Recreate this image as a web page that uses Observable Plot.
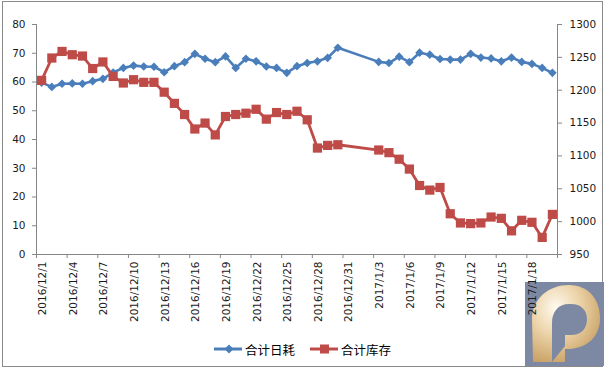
<!DOCTYPE html>
<html>
<head>
<meta charset="utf-8">
<script src="https://cdn.jsdelivr.net/npm/d3@7"></script>
<script src="https://cdn.jsdelivr.net/npm/@observablehq/plot@0.6"></script>
<style>
  html, body { margin: 0; padding: 0; background: #fff; }
  #wrap { position: relative; width: 604px; height: 369px; overflow: hidden; font-family: "DejaVu Sans", sans-serif; }
  #frame { position: absolute; left: 2px; top: 1px; width: 601px; height: 366px; box-sizing: border-box; border: 1px solid #8a8a8a; }
  #logo { position: absolute; left: 525px; top: 282px; }
  #chart { position: absolute; left: 0; top: 0; }
  #legend { position: absolute; left: 0; top: 339px; width: 604px; height: 20px; font-family: "Noto Sans CJK SC", sans-serif; font-size: 12.5px; color: #000; }
  .item { position: absolute; top: 0; display: flex; align-items: center; height: 20px; }
  .item span { margin-left: 2px; }
</style>
</head>
<body>
<div id="wrap">
  <div id="frame"></div>
  <svg id="logo" width="79" height="84" viewBox="0 0 79 84">
    <defs>
      <radialGradient id="gold" cx="0.35" cy="0.3" r="0.8">
        <stop offset="0" stop-color="#fffaf0"/>
        <stop offset="0.45" stop-color="#ecd3a8"/>
        <stop offset="1" stop-color="#c49a5c"/>
      </radialGradient>
    </defs>
    <rect x="0" y="0" width="79" height="84" fill="#7d89a3"/>
    <path fill="url(#gold)" fill-rule="evenodd"
      d="M8 80 L7 38 C7 16 24 3 44 3 C64 3 75 18 75 36 C75 54 63 66 44 67 L40 67 L40 80 Z
         M27 41 C27 30 33 22 44 22 L46 22 C56 22 62 28 62 37 C62 47 56 53 46 53 L40 53 L40 64 L27 80 Z"/>
  </svg>
  <div id="chart"></div>
  <div id="legend">
    <div class="item" style="left:214px">
      <svg width="29" height="12"><line x1="0" y1="6" x2="28" y2="6" stroke="#4A7EBB" stroke-width="3"/><path d="M15 1.5 L19.5 6 L15 10.5 L10.5 6 Z" fill="#4A7EBB"/></svg>
      <span>合计日耗</span>
    </div>
    <div class="item" style="left:310px">
      <svg width="29" height="12"><line x1="0" y1="6" x2="28" y2="6" stroke="#BE4B48" stroke-width="3"/><rect x="10" y="1.5" width="9" height="9" fill="#BE4B48"/></svg>
      <span>合计库存</span>
    </div>
  </div>
</div>
<script>
// ---- data ----
const dates = [
  "2016-12-01","2016-12-02","2016-12-03","2016-12-04","2016-12-05","2016-12-06","2016-12-07","2016-12-08",
  "2016-12-09","2016-12-10","2016-12-11","2016-12-12","2016-12-13","2016-12-14","2016-12-15","2016-12-16",
  "2016-12-17","2016-12-18","2016-12-19","2016-12-20","2016-12-21","2016-12-22","2016-12-23","2016-12-24",
  "2016-12-25","2016-12-26","2016-12-27","2016-12-28","2016-12-29","2016-12-30",
  "2017-01-03","2017-01-04","2017-01-05","2017-01-06","2017-01-07","2017-01-08","2017-01-09","2017-01-10",
  "2017-01-11","2017-01-12","2017-01-13","2017-01-14","2017-01-15","2017-01-16","2017-01-17","2017-01-18",
  "2017-01-19","2017-01-20"
];
// 合计日耗 (left axis)
const consumption = [
  59.8, 58.3, 59.4, 59.5, 59.4, 60.3, 61.1, 63.3, 64.9, 65.7, 65.4, 65.3, 63.4, 65.5, 66.9, 69.8,
  68.1, 66.9, 68.9, 64.9, 68.1, 67.2, 65.4, 64.9, 63.2, 65.5, 66.6, 67.2, 68.4, 71.9,
  67.0, 66.6, 68.8, 66.9, 70.2, 69.5, 68.0, 67.8, 67.8, 69.8, 68.5, 68.2, 67.2, 68.5, 67.0, 66.3,
  64.9, 63.2
];
// 合计库存 (right axis)
const inventory = [
  1215, 1249, 1259, 1254, 1252, 1233, 1243, 1221, 1211, 1216, 1212, 1212, 1197, 1180, 1163, 1141,
  1150, 1132, 1160, 1163, 1165, 1171, 1156, 1166, 1163, 1168, 1155, 1112, 1116, 1117,
  1109, 1105, 1095, 1080, 1055, 1048, 1052, 1012, 998, 997, 998, 1007, 1005, 986, 1002, 999,
  976, 1011
];
const seriesNames = ["合计日耗", "合计库存"];
const leftTicks = [0, 10, 20, 30, 40, 50, 60, 70, 80];
const rightTicks = [950, 1000, 1050, 1100, 1150, 1200, 1250, 1300];
const xTickLabels = [
  "2016/12/1","2016/12/4","2016/12/7","2016/12/10","2016/12/13","2016/12/16","2016/12/19",
  "2016/12/22","2016/12/25","2016/12/28","2016/12/31","2017/1/3","2017/1/6","2017/1/9",
  "2017/1/12","2017/1/15","2017/1/18"
];

// ---- helpers ----
const parse = d3.utcParse("%Y-%m-%d");
const parseTick = d3.utcParse("%Y/%m/%d");
const fmt = d3.utcFormat("%Y/%-m/%-d");
const DAY = 864e5;
const leftDom = [leftTicks[0], leftTicks[leftTicks.length - 1]];
const rightDom = [rightTicks[0], rightTicks[rightTicks.length - 1]];
const toLeft = v => leftDom[0] + (v - rightDom[0]) / (rightDom[1] - rightDom[0]) * (leftDom[1] - leftDom[0]);
const fromLeft = v => rightDom[0] + (v - leftDom[0]) / (leftDom[1] - leftDom[0]) * (rightDom[1] - rightDom[0]);

const data = dates.map((d, i) => ({date: parse(d), cons: consumption[i], inv: inventory[i]}));
const xStart = new Date(+data[0].date - DAY / 2);
const xEnd = new Date(+data[data.length - 1].date + DAY / 2);
const labelDates = xTickLabels.map(parseTick);
const boundaries = labelDates.map(d => new Date(+d - DAY / 2)).concat([xEnd]);

const axisColor = "#868686";
const textColor = "#1a1a1a";
const blue = "#4A7EBB";
const red = "#BE4B48";

const chart = Plot.plot({
  width: 604,
  height: 369,
  marginLeft: 36,
  marginRight: 47,
  marginTop: 24,
  marginBottom: 115,
  style: {background: "transparent", fontFamily: "DejaVu Sans, sans-serif", fontSize: "10px", overflow: "visible"},
  x: {type: "utc", domain: [xStart, xEnd], axis: null},
  y: {domain: leftDom, axis: null},
  marks: [
    Plot.ruleY([0], {stroke: axisColor, strokeWidth: 1}),
    Plot.ruleX([xStart, xEnd], {stroke: axisColor, strokeWidth: 1}),
    Plot.axisY(leftTicks, {anchor: "left", label: null, tickSize: 4, tickPadding: 7, stroke: axisColor, fill: textColor, fontSize: 10.5}),
    Plot.axisY(rightTicks.map(toLeft), {anchor: "right", label: null, tickSize: 4, tickPadding: 8, stroke: axisColor, fill: textColor, fontSize: 10.5,
      tickFormat: v => String(Math.round(fromLeft(v)))}),
    Plot.axisX(boundaries, {anchor: "bottom", label: null, tickSize: 4, stroke: axisColor, tickFormat: () => ""}),
    Plot.axisX(labelDates, {anchor: "bottom", label: null, tickSize: 0, tickPadding: 7, tickRotate: -90, fill: textColor, fontSize: 10.5,
      tickFormat: fmt, dx: 1}),
    Plot.line(data, {x: "date", y: "cons", stroke: blue, strokeWidth: 2.6}),
    Plot.dot(data, {x: "date", y: "cons", symbol: "diamond2", fill: blue, r: 3.9, stroke: null}),
    Plot.line(data, {x: "date", y: d => toLeft(d.inv), stroke: red, strokeWidth: 2.8}),
    Plot.dot(data, {x: "date", y: d => toLeft(d.inv), symbol: "square", fill: red, r: 5.2, stroke: null})
  ]
});
document.getElementById("chart").appendChild(chart);
</script>
</body>
</html>
